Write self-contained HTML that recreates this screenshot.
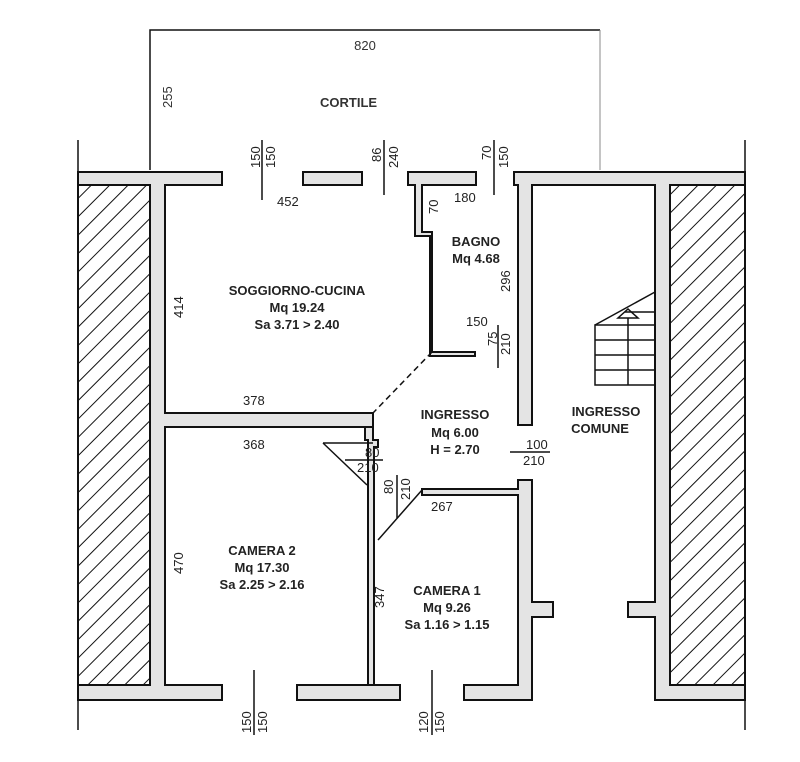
<!DOCTYPE html>
<html><head><style>
html,body{margin:0;padding:0;background:#fff}
svg{display:block}
text{font-family:"Liberation Sans",sans-serif;fill:#222}
.w{fill:#e4e4e4;stroke:#111;stroke-width:2}
.l{stroke:#111;stroke-width:1.5;fill:none}
.t{font-size:13px;font-weight:bold;fill:#333}
.d{font-size:13px;fill:#333}
</style></head><body>
<svg width="800" height="762" viewBox="0 0 800 762">
<defs>
<pattern id="h" width="13" height="13" patternUnits="userSpaceOnUse" patternTransform="rotate(45)">
<rect width="13" height="13" fill="#fff"/><line x1="0" y1="0" x2="0" y2="13" stroke="#111" stroke-width="2"/>
</pattern>
</defs>
<!-- cortile -->
<polyline class="l" points="150,170 150,30 600,30" />
<line x1="600" y1="30" x2="600" y2="170" stroke="#888" stroke-width="1"/>
<text x="365" y="50" class="d" text-anchor="middle">820</text>
<text x="320" y="107" class="t">CORTILE</text>
<text class="d" transform="translate(172,108) rotate(-90)">255</text>
<!-- outer lines -->
<line class="l" x1="78" y1="140" x2="78" y2="730"/>
<line class="l" x1="745" y1="140" x2="745" y2="730"/>
<!-- hatch blocks -->
<rect x="78" y="185" width="72" height="500" fill="url(#h)" stroke="#111" stroke-width="2"/>
<rect x="670" y="185" width="75" height="500" fill="url(#h)" stroke="#111" stroke-width="2"/>
<!-- top walls -->
<path class="w" d="M78,172 H222 V185 H165 V413 H373 V427 H165 V685 H222 V700 H78 V685 H150 V185 H78 Z"/>
<rect class="w" x="303" y="172" width="59" height="13"/>
<path class="w" d="M408,172 H476 V185 H422 V232 H432 V352 H475 V356 H430 V236 H415 V185 H408 Z"/>
<path class="w" d="M514,172 H745 V185 H670 V685 H745 V700 H655 V617 H628 V602 H655 V185 H532 V425 H518 V185 H514 Z"/>
<!-- camera partitions -->
<path class="w" d="M365,427 H373 V440 H378 V447 H374 V685 H368 V440 H365 Z"/>
<path class="w" d="M422,489 H518 V480 H532 V602 H553 V617 H532 V700 H464 V685 H518 V495 H422 Z"/>
<rect class="w" x="297" y="685" width="103" height="15"/>
<!-- doors -->
<line class="l" x1="432" y1="352" x2="373" y2="413" stroke-dasharray="6,4"/>
<polyline class="l" points="323,443 373,443"/>
<line class="l" x1="323" y1="443" x2="367" y2="485"/>
<line class="l" x1="345" y1="460" x2="383" y2="460"/>
<line class="l" x1="378" y1="540" x2="422" y2="490"/>
<line class="l" x1="397" y1="475" x2="397" y2="518"/>
<!-- stair -->
<g class="l">
<rect x="595" y="325" width="60" height="60"/>
<line x1="595" y1="340" x2="655" y2="340"/><line x1="595" y1="355" x2="655" y2="355"/><line x1="595" y1="370" x2="655" y2="370"/>
<line x1="628" y1="318" x2="628" y2="385"/>
<line x1="595" y1="325" x2="655" y2="292"/><line x1="625" y1="312" x2="655" y2="312"/>
<polygon points="618,318 638,318 628,309"/>
</g>
<!-- dimension ticks -->
<g class="l">
<line x1="262" y1="140" x2="262" y2="200"/>
<line x1="384" y1="140" x2="384" y2="195"/>
<line x1="494" y1="140" x2="494" y2="195"/>
<line x1="498" y1="325" x2="498" y2="368"/>
<line x1="510" y1="452" x2="550" y2="452"/>
<line x1="254" y1="670" x2="254" y2="735"/>
<line x1="432" y1="670" x2="432" y2="735"/>
</g>
<g class="d">
<text transform="translate(260,168) rotate(-90)">150</text>
<text transform="translate(275,168) rotate(-90)">150</text>
<text transform="translate(381,162) rotate(-90)">86</text>
<text transform="translate(398,168) rotate(-90)">240</text>
<text transform="translate(491,160) rotate(-90)">70</text>
<text transform="translate(508,168) rotate(-90)">150</text>
<text x="277" y="206">452</text>
<text x="454" y="202">180</text>
<text transform="translate(438,214) rotate(-90)">70</text>
<text transform="translate(510,292) rotate(-90)">296</text>
<text x="466" y="326">150</text>
<text transform="translate(497,346) rotate(-90)">75</text>
<text transform="translate(510,355) rotate(-90)">210</text>
<text transform="translate(183,318) rotate(-90)">414</text>
<text x="243" y="405">378</text>
<text x="243" y="449">368</text>
<text x="365" y="457">80</text>
<text x="357" y="472">210</text>
<text transform="translate(393,494) rotate(-90)">80</text>
<text transform="translate(410,500) rotate(-90)">210</text>
<text x="431" y="511">267</text>
<text x="526" y="449">100</text>
<text x="523" y="465">210</text>
<text transform="translate(183,574) rotate(-90)">470</text>
<text transform="translate(384,608) rotate(-90)">347</text>
<text transform="translate(251,733) rotate(-90)">150</text>
<text transform="translate(267,733) rotate(-90)">150</text>
<text transform="translate(428,733) rotate(-90)">120</text>
<text transform="translate(444,733) rotate(-90)">150</text>
</g>
<g class="t" text-anchor="middle">
<text x="297" y="295">SOGGIORNO-CUCINA</text>
<text x="297" y="312">Mq 19.24</text>
<text x="297" y="329">Sa 3.71 &gt; 2.40</text>
<text x="476" y="246">BAGNO</text>
<text x="476" y="263">Mq 4.68</text>
<text x="455" y="419">INGRESSO</text>
<text x="455" y="437">Mq 6.00</text>
<text x="455" y="454">H = 2.70</text>
<text x="606" y="416">INGRESSO</text>
<text x="600" y="433">COMUNE</text>
<text x="262" y="555">CAMERA 2</text>
<text x="262" y="572">Mq 17.30</text>
<text x="262" y="589">Sa 2.25 &gt; 2.16</text>
<text x="447" y="595">CAMERA 1</text>
<text x="447" y="612">Mq 9.26</text>
<text x="447" y="629">Sa 1.16 &gt; 1.15</text>
</g>
</svg>
</body></html>
